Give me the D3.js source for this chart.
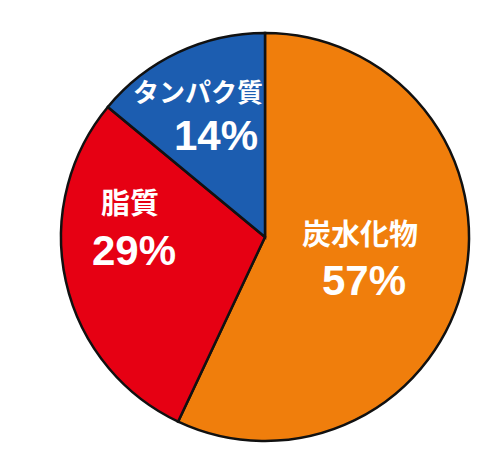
<!DOCTYPE html><html><head><meta charset="utf-8"><script src="https://cdn.jsdelivr.net/npm/d3@7"></script>
<style>body{margin:0;background:#fff}</style></head><body><svg width="500" height="471"></svg>
<script>
const categories=["炭水化物","脂質","タンパク質"];
const values=[57,29,14];
const colors=["#f07e0c","#e60013","#1c5db0"];
const labelPos=[[360,245,295],[130,214,265],[198,102,150]];
const svg=d3.select("svg");
const g=svg.append("g").attr("transform","translate(265,237)");
const pie=d3.pie().sort(null)(values);
const arc=d3.arc().innerRadius(0).outerRadius(204);
g.selectAll("path").data(pie).join("path").attr("d",arc).attr("fill",(d,i)=>colors[i]).attr("stroke","#111").attr("stroke-width",2.5);
categories.forEach((c,i)=>{
 const [x,y1,y2]=labelPos[i];
 svg.append("text").attr("x",x).attr("y",y1).attr("text-anchor","middle").attr("fill","#fff").attr("font-family","Noto Sans CJK JP").attr("font-weight","bold").attr("font-size",i==2?26:29).text(c);
 svg.append("text").attr("x",x+(i==2?18:4)).attr("y",y2).attr("text-anchor","middle").attr("fill","#fff").attr("font-family","Liberation Sans").attr("font-weight","bold").attr("font-size",42).text(values[i]+"%");
});
</script></body></html>
